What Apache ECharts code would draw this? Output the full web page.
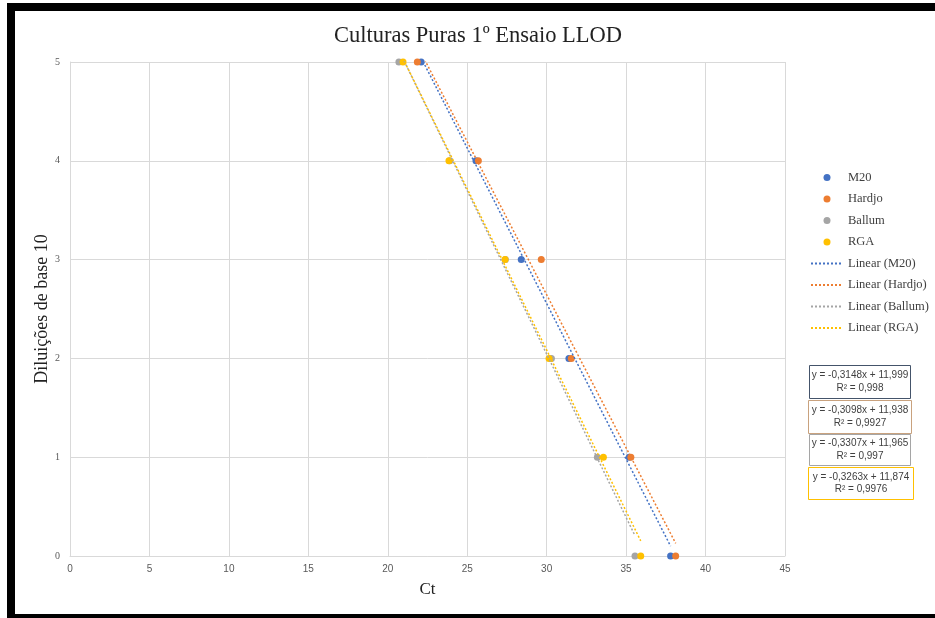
<!DOCTYPE html>
<html>
<head>
<meta charset="utf-8">
<script src="https://cdn.jsdelivr.net/npm/echarts@6/dist/echarts.min.js"></script>
<style>
html,body{margin:0;padding:0;background:#fff;}
#chart{width:935px;height:618px;}
</style>
</head>
<body>
<div id="chart"></div>
<script>
// Dilution levels (y values)
const dilutions = [0, 1, 2, 3, 4, 5];
// Ct values per series, matching dilutions
const ctM20    = [37.8, 35.2, 31.4, 28.4, 25.55, 22.1];
const ctHardjo = [38.12, 35.3, 31.55, 29.66, 25.7, 21.86];
const ctBallum = [35.56, 33.19, 30.3, 27.4, 23.9, 20.7];
const ctRGA    = [35.92, 33.57, 30.15, 27.38, 23.85, 20.96];

const seriesNames = ['M20', 'Hardjo', 'Ballum', 'RGA'];
const seriesColors = ['#4472C4', '#ED7D31', '#A5A5A5', '#FFC000'];
const boxBorderColors = ['#44546A', '#C9A27E', '#A5A5A5', '#FFC000'];

// Trendline coefficients as shown on the chart
const slopes = [-0.3148, -0.3098, -0.3307, -0.3263];
const intercepts = [11.999, 11.938, 11.965, 11.874];
const r2 = ['0,998', '0,9927', '0,997', '0,9976'];

const xTicks = [0, 5, 10, 15, 20, 25, 30, 35, 40, 45];
const yTicks = [0, 1, 2, 3, 4, 5];

const allCt = [ctM20, ctHardjo, ctBallum, ctRGA];

function fmt(v, d) { return v.toFixed(d).replace('.', ','); }

const scatterSeries = seriesNames.map((n, i) => ({
  name: n,
  type: 'scatter',
  symbol: 'circle',
  symbolSize: 7,
  itemStyle: { color: seriesColors[i], opacity: 1 },
  data: allCt[i].map((x, k) => [x, dilutions[k]]),
  z: 3
}));

const lineSeries = seriesNames.map((n, i) => {
  const xmin = Math.min(...allCt[i]);
  const xmax = Math.max(...allCt[i]);
  return {
    name: 'Linear (' + n + ')',
    type: 'line',
    symbol: 'none',
    silent: true,
    lineStyle: { color: seriesColors[i], width: 1.5, type: [2, 2] },
    itemStyle: { color: seriesColors[i] },
    data: [[xmin, slopes[i] * xmin + intercepts[i]], [xmax, slopes[i] * xmax + intercepts[i]]],
    z: 4
  };
});

const boxes = [
  { x: 809, y: 365, w: 101, h: 33 },
  { x: 808, y: 400, w: 103, h: 33 },
  { x: 809, y: 434, w: 101, h: 31 },
  { x: 808, y: 467, w: 105, h: 32 }
];

const graphics = [
  { type: 'rect', shape: { x: 7, y: 3, width: 928, height: 8 }, style: { fill: '#000' }, silent: true },
  { type: 'rect', shape: { x: 7, y: 3, width: 8, height: 615 }, style: { fill: '#000' }, silent: true },
  { type: 'rect', shape: { x: 7, y: 614, width: 928, height: 4 }, style: { fill: '#000' }, silent: true }
];
boxes.forEach((b, i) => {
  graphics.push({
    type: 'rect',
    shape: { x: b.x + 0.5, y: b.y + 0.5, width: b.w, height: b.h },
    style: { fill: '#fff', stroke: boxBorderColors[i], lineWidth: 1 },
    silent: true
  });
  graphics.push({
    type: 'text',
    x: b.x + b.w / 2 + 0.5, y: b.y + b.h * 0.31,
    style: {
      text: 'y = ' + fmt(slopes[i], 4) + 'x + ' + fmt(intercepts[i], 3),
      fill: '#404040', font: '10px "Liberation Sans", Arial, sans-serif',
      align: 'center', verticalAlign: 'middle'
    },
    silent: true
  });
  graphics.push({
    type: 'text',
    x: b.x + b.w / 2 + 0.5, y: b.y + b.h * 0.71,
    style: {
      text: 'R² = ' + r2[i],
      fill: '#404040', font: '10px "Liberation Sans", Arial, sans-serif',
      align: 'center', verticalAlign: 'middle'
    },
    silent: true
  });
});

const legendData = seriesNames.map(n => ({ name: n }))
  .concat(seriesNames.map(n => ({ name: 'Linear (' + n + ')', itemStyle: { opacity: 0 } })));

const chart = echarts.init(document.getElementById('chart'), null, { renderer: 'canvas' });
chart.setOption({
  backgroundColor: '#fff',
  animation: false,
  title: {
    text: 'Culturas Puras 1º Ensaio LLOD',
    left: 473, top: 20, textAlign: 'center',
    textStyle: { fontFamily: '"Liberation Serif", "Times New Roman", serif', fontSize: 22.5, fontWeight: 'normal', color: '#222' }
  },
  grid: { left: 70, right: 150, top: 62, bottom: 62, containLabel: false },
  legend: {
    orient: 'vertical',
    left: 810, top: 171,
    itemWidth: 32, itemHeight: 7,
    itemGap: 8.5,
    padding: 0,
    data: legendData,
    textStyle: { fontFamily: '"Liberation Serif", "Times New Roman", serif', fontSize: 12.5, color: '#404040' }
  },
  xAxis: {
    type: 'value', min: 0, max: 45, interval: 5,
    name: 'Ct', nameLocation: 'middle', nameGap: 25, nameMoveOverlap: false,
    nameTextStyle: { fontFamily: '"Liberation Serif", "Times New Roman", serif', fontSize: 17, color: '#222' },
    axisLine: { show: true, lineStyle: { color: '#d9d9d9' } },
    axisTick: { show: false },
    axisLabel: { margin: 8, color: '#595959', fontSize: 10, fontFamily: '"Liberation Sans", Arial, sans-serif',
      formatter: v => xTicks.indexOf(v) >= 0 ? String(v) : '' },
    splitLine: { show: true, lineStyle: { color: '#d9d9d9' } }
  },
  yAxis: {
    type: 'value', min: 0, max: 5, interval: 1,
    name: 'Diluições de base 10', nameLocation: 'middle', nameGap: 19, nameRotate: 90, nameMoveOverlap: false,
    nameTextStyle: { fontFamily: '"Liberation Serif", "Times New Roman", serif', fontSize: 18, color: '#222' },
    axisLine: { show: true, lineStyle: { color: '#d9d9d9' } },
    axisTick: { show: false },
    axisLabel: { margin: 10, color: '#595959', fontSize: 10, fontFamily: '"Liberation Serif", "Times New Roman", serif',
      formatter: v => yTicks.indexOf(v) >= 0 ? String(v) : '' },
    splitLine: { show: true, lineStyle: { color: '#d9d9d9' } }
  },
  series: scatterSeries.concat(lineSeries),
  graphic: graphics
});
</script>
</body>
</html>
